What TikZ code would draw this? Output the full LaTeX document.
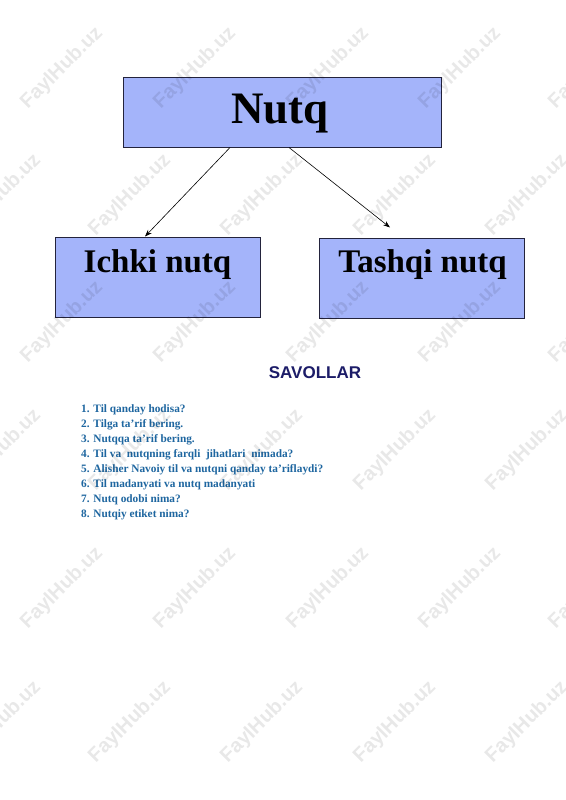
\documentclass[tikz,border=0pt]{standalone}
\usepackage{fontspec}
\setmainfont{Liberation Serif}
\newfontfamily\arialf{Liberation Sans}
\usetikzlibrary{arrows.meta}
\definecolor{boxfill}{RGB}{164,180,250}
\definecolor{boxline}{RGB}{35,35,60}
\definecolor{qcol}{RGB}{30,102,160}
\definecolor{navy}{RGB}{28,28,104}
\tikzset{
  conceptbox/.style={draw=boxline, line width=1pt, fill=boxfill, inner sep=0pt},
  bigtitle/.style={font=\fontsize{45}{50}\selectfont\bfseries, anchor=base, inner sep=0pt},
  subtitle/.style={font=\fontsize{33}{38}\selectfont\bfseries, anchor=base, inner sep=0pt},
  linkarrow/.style={draw=black, line width=0.6pt, -{Stealth[length=7pt,width=5pt]}},
  question/.style={font=\fontsize{11.3}{13}\selectfont\bfseries, text=qcol, anchor=base west, inner sep=0pt},
  heading/.style={font=\arialf\fontsize{17}{20}\selectfont\bfseries, text=navy, anchor=base, inner sep=0pt},
  wmark/.style={font=\arialf\fontsize{20}{22}\selectfont\bfseries, text=black, opacity=0.09, rotate=45, inner sep=0pt}
}
\begin{document}
\begin{tikzpicture}[x=1pt,y=-1pt]
\useasboundingbox (0,0) rectangle (565,800);
\fill[white] (0,0) rectangle (565,800);

% boxes
\node[conceptbox, minimum width=318pt, minimum height=70pt] (nutq) at (282,112) {};
\node[bigtitle] (nutqt) at (280,123) {Nutq};
\node[conceptbox, minimum width=205pt, minimum height=80pt] (ichki) at (157.5,277) {};
\node[subtitle] (ichkit) at (157.5,272) {Ichki nutq};
\node[conceptbox, minimum width=205pt, minimum height=80pt] (tashqi) at (421.5,278) {};
\node[subtitle] (tashqit) at (422.5,272) {Tashqi nutq};

% connectors
\coordinate (tashqitip) at ([xshift=-31.5pt,yshift=10pt]tashqi.north);
\draw[linkarrow] ([xshift=-52pt]nutq.south) -- ([xshift=-12.5pt]ichki.north);
\draw[linkarrow] ([xshift=7pt]nutq.south) -- (tashqitip);

% questions
\node[heading] (sav) at (315,378) {SAVOLLAR};
\node[question] (q1) at (81,412) {1. Til qanday hodisa?};
\node[question] (q2) at (81,427) {2. Tilga ta’rif bering.};
\node[question] (q3) at (81,442) {3. Nutqqa ta’rif bering.};
\node[question] (q4) at (81,457) {4. Til va\ \ nutqning farqli\ \ jihatlari\ \ nimada?};
\node[question] (q5) at (81,472) {5. Alisher Navoiy til va nutqni qanday ta’riflaydi?};
\node[question] (q6) at (81,487) {6. Til madanyati va nutq madanyati};
\node[question] (q7) at (81,502) {7. Nutq odobi nima?};
\node[question] (q8) at (81,517) {8. Nutqiy etiket nima?};

% watermarks
\foreach \y in {68,322,588} {
  \foreach \x in {62,195,328,460,590} {
    \node[wmark] at (\x,\y) {FaylHub.uz};
  }
}
\foreach \y in {195,450,722} {
  \foreach \x in {0,130,262,395,527} {
    \node[wmark] at (\x,\y) {FaylHub.uz};
  }
}
\end{tikzpicture}
\end{document}
